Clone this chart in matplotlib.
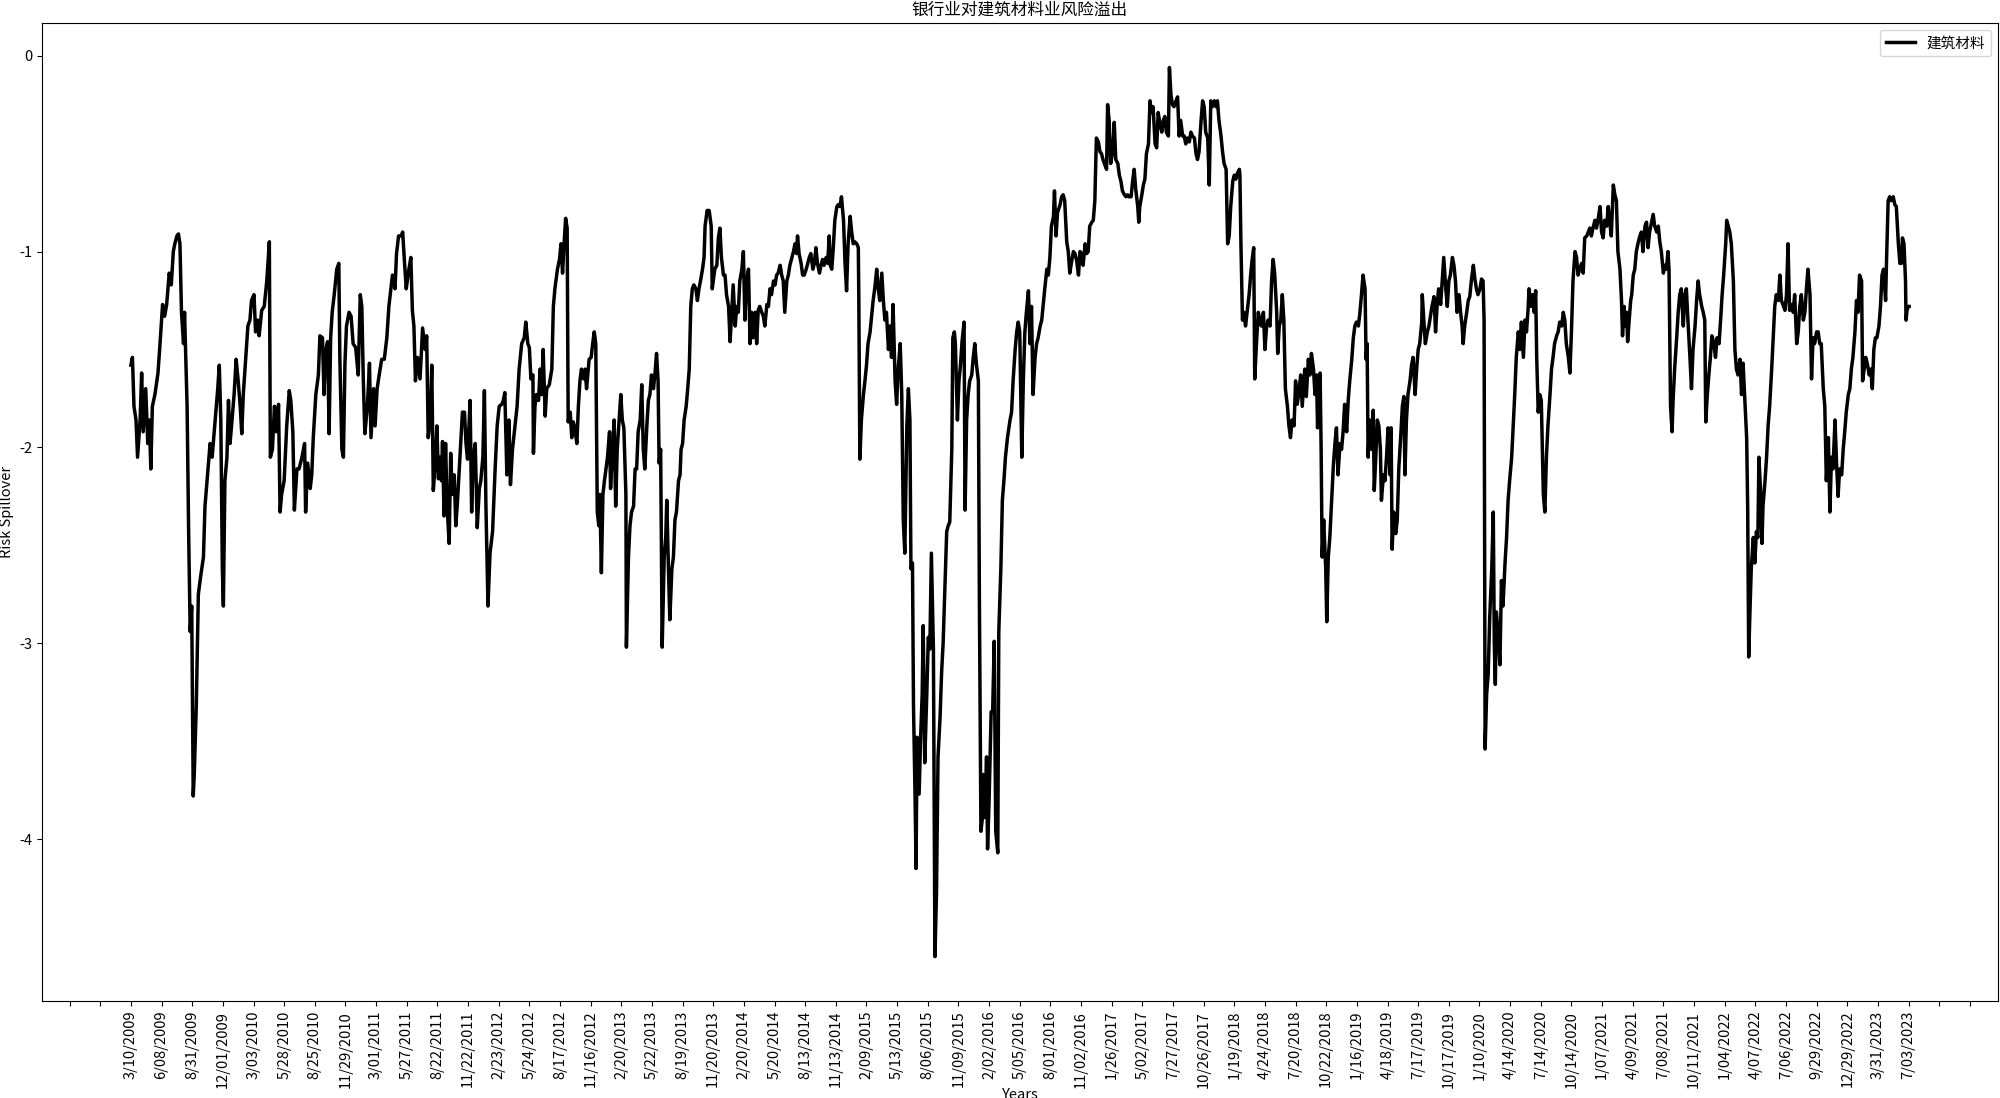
import numpy as np
import matplotlib
matplotlib.use("Agg")
import matplotlib.pyplot as plt

plt.rcParams['font.family'] = ['Noto Sans CJK SC', 'DejaVu Sans']
plt.rcParams['axes.unicode_minus'] = False

title = '银行业对建筑材料业风险溢出'
series_name = '建筑材料'

# trading-day index of each reading and the spillover value
day_idx = [
    0, 3, 6, 10, 13, 18, 21, 24, 29, 33, 36, 39, 42, 47, 53, 57, 62, 66, 70, 75,
    79, 83, 86, 90, 93, 96, 99, 103, 105, 107, 110, 113, 116, 119, 122, 124, 128, 132, 137, 142,
    145, 150, 155, 159, 165, 170, 173, 176, 179, 181, 184, 188, 191, 194, 197, 202, 206, 210, 214, 217,
    220, 225, 229, 233, 236, 241, 244, 248, 251, 256, 261, 266, 269, 271, 273, 277, 281, 285, 289, 292,
    295, 300, 305, 310, 313, 317, 320, 325, 329, 334, 340, 342, 346, 351, 354, 357, 362, 367, 370, 375,
    378, 381, 385, 388, 391, 394, 398, 403, 407, 409, 413, 416, 419, 422, 427, 431, 435, 440, 445, 449,
    452, 455, 458, 463, 467, 470, 475, 478, 482, 486, 491, 496, 501, 505, 509, 512, 517, 520, 524, 529,
    532, 535, 539, 543, 548, 551, 554, 557, 561,
    566, 571, 576, 579, 582, 586, 589, 592, 595, 599, 602, 605, 608, 610, 613, 616, 619, 623, 626, 629,
    633, 636, 639, 644, 649, 653, 656, 659, 664, 667, 670, 674, 678, 682, 685, 689, 692, 695, 699, 703,
    708, 713, 717, 721, 726, 729, 732, 736, 740, 743, 747, 752, 756, 760, 765, 770, 773, 777, 780, 783,
    787, 788, 791, 794, 798, 801, 804, 807, 811, 814, 819, 824, 827, 830, 835, 839, 842, 845, 848, 851,
    854, 856, 860, 863, 866, 869, 873, 876, 879, 882, 886, 889, 892, 897, 901, 904, 907, 910, 913, 916,
    918, 921, 924, 927, 930, 933, 937, 939, 942, 946, 949, 952, 955, 959, 962, 965, 969, 970, 974, 977,
    980, 984, 987, 990, 993, 997, 1000, 1003, 1006, 1010, 1013, 1016, 1019, 1023, 1026, 1029, 1032, 1034, 1037, 1040,
    1044, 1047, 1049, 1052, 1055, 1059, 1062, 1065, 1068, 1072, 1075, 1077, 1080, 1083, 1087, 1090, 1093, 1096, 1099, 1102,
    1106, 1109, 1112, 1115, 1119, 1122, 1124, 1128, 1132, 1136, 1138,
    1143, 1147, 1150, 1153, 1156, 1160, 1163, 1166, 1170, 1173, 1176, 1179, 1183, 1186, 1189, 1192, 1196, 1199, 1202, 1205,
    1209, 1212, 1215, 1218, 1222, 1225, 1228, 1231, 1235, 1238, 1241, 1245, 1248, 1251, 1254, 1258, 1261, 1264, 1267, 1271,
    1274, 1277, 1280, 1284, 1287, 1290, 1294, 1297, 1300, 1303, 1305, 1308, 1312, 1315, 1318, 1322, 1325, 1328, 1331, 1335,
    1338, 1341, 1344, 1348, 1351, 1354, 1357, 1361, 1364, 1367, 1369, 1372, 1375, 1378, 1382, 1385, 1388, 1391, 1395, 1398,
    1401, 1404, 1408, 1411, 1414, 1417, 1421, 1424, 1425, 1427, 1430, 1434, 1437, 1440, 1443, 1447, 1450, 1453, 1457, 1460,
    1463, 1466, 1470, 1473, 1476, 1479, 1483, 1486, 1489, 1492, 1496, 1499, 1502, 1506, 1509, 1512, 1515, 1519, 1522, 1525,
    1527, 1530, 1532, 1535, 1537, 1539, 1543, 1546, 1549, 1551, 1554, 1558, 1561, 1564, 1567, 1571, 1573, 1574, 1577, 1580,
    1584, 1587, 1590, 1594, 1597, 1600, 1603, 1607, 1609, 1612, 1614, 1618, 1621, 1624, 1627, 1631, 1633, 1636, 1639, 1642,
    1646, 1649, 1652, 1655, 1659, 1661, 1664, 1667, 1669, 1672, 1675, 1677, 1680, 1684, 1687, 1690, 1693, 1697, 1699, 1703,
    1706, 1709, 1712, 1716,
    1721, 1724, 1727, 1731, 1734, 1737, 1740, 1744, 1747, 1750, 1753, 1757, 1760, 1763, 1766, 1770, 1773, 1776, 1780, 1783,
    1786, 1789, 1793, 1796, 1799, 1802, 1806, 1808, 1811, 1814, 1819, 1822, 1825, 1828, 1832, 1835, 1838, 1841, 1845, 1848,
    1851, 1855, 1858, 1861, 1864, 1868, 1871, 1874, 1877, 1881, 1884, 1887, 1890, 1894, 1897, 1900, 1903, 1907, 1910, 1912,
    1915, 1918, 1922, 1925, 1928, 1932, 1935, 1938, 1941, 1945, 1948, 1951, 1954, 1958, 1961, 1964, 1967, 1971, 1973, 1975,
    1979, 1982, 1985, 1988, 1992, 1995, 1998, 2001, 2005, 2008, 2011, 2014, 2018, 2021, 2024, 2027, 2031, 2033, 2036, 2039,
    2042, 2046, 2049, 2052, 2055, 2059, 2062, 2065, 2068, 2072, 2075, 2078, 2082, 2085, 2088, 2091, 2095, 2098, 2101, 2104,
    2108, 2111, 2114, 2117, 2121, 2124, 2127, 2130, 2134, 2137, 2140, 2144, 2147, 2150, 2153, 2157, 2160, 2163, 2166, 2170,
    2171, 2173, 2176, 2179, 2182, 2185, 2189, 2192, 2195, 2198, 2200, 2204, 2207, 2210, 2213, 2217, 2220, 2223, 2226, 2230,
    2233, 2236, 2239, 2243, 2245, 2248, 2251, 2254, 2257, 2260, 2264, 2267, 2270, 2273, 2277, 2280, 2283, 2286, 2290, 2293,
    2298, 2301, 2305, 2308, 2311, 2315, 2318, 2321, 2323, 2326, 2328, 2330, 2332, 2335, 2339, 2341, 2344, 2347, 2350, 2354,
    2357, 2360, 2363, 2367, 2370, 2373, 2376, 2380, 2383, 2386, 2390, 2393, 2396, 2399, 2403, 2406, 2409, 2412, 2416, 2418,
    2420, 2422, 2425, 2429, 2432, 2434, 2437, 2440, 2443, 2446, 2448, 2452, 2455, 2458, 2461, 2465, 2467, 2469, 2472, 2476,
    2479, 2482, 2485, 2489, 2492, 2494, 2497, 2500, 2504, 2507, 2510, 2514, 2517, 2520, 2523, 2527, 2528, 2531, 2534, 2538,
    2541, 2544, 2547, 2551, 2554, 2557, 2560, 2564, 2567, 2570, 2574, 2577, 2580, 2583, 2587, 2590, 2593, 2596, 2600, 2603,
    2606, 2608, 2611, 2615, 2618, 2621, 2624, 2628, 2631, 2634, 2637, 2641, 2644, 2647, 2649, 2650, 2651, 2654, 2657, 2660,
    2664, 2667, 2669, 2671, 2673, 2677, 2680, 2683, 2686, 2690, 2693, 2696, 2699, 2703, 2706, 2709, 2712, 2716, 2719, 2722,
    2726, 2729, 2732, 2735, 2737, 2741, 2744, 2747, 2750, 2752, 2755, 2758, 2761, 2765, 2768, 2771, 2774, 2778, 2781, 2784,
    2787, 2791, 2794, 2797, 2801, 2804, 2807, 2810, 2814, 2817, 2820, 2823, 2827, 2830, 2833, 2836, 2840, 2843, 2846, 2850,
    2853, 2856, 2859, 2863, 2866, 2869, 2872,
    2876, 2879, 2882, 2885, 2889, 2892, 2895, 2898, 2902, 2905, 2908, 2911, 2915, 2918, 2920, 2923, 2925, 2928, 2930, 2933,
    2936, 2938, 2941, 2944, 2947, 2951, 2954, 2957, 2960, 2964, 2967, 2970, 2973, 2977, 2980, 2983, 2987, 2990, 2993, 2996,
    3000, 3003, 3006, 3009, 3011, 3014, 3017, 3019, 3022, 3026, 3029, 3032, 3035, 3039, 3042, 3045, 3048, 3052, 3055, 3058,
    3062, 3065, 3068, 3071, 3075, 3078, 3081, 3083, 3086, 3089, 3092, 3095, 3099, 3102, 3105, 3109, 3112, 3115, 3118, 3122,
    3124, 3127, 3130, 3133, 3137, 3140, 3143, 3146, 3150, 3153, 3156, 3159, 3163, 3165, 3167, 3169, 3172, 3176, 3179, 3182,
    3185, 3187, 3190, 3193, 3195, 3199, 3202, 3205, 3208, 3212, 3215, 3218, 3221, 3225, 3228, 3231, 3234, 3238, 3241, 3244,
    3247, 3251, 3254, 3257, 3261, 3264, 3267, 3270, 3274, 3277, 3280, 3283, 3287, 3290, 3293, 3296, 3300, 3303, 3306, 3309,
    3313, 3316, 3319, 3323, 3326, 3329, 3332, 3336, 3339, 3342, 3345, 3349, 3352, 3355, 3358, 3362, 3365, 3368, 3371, 3375,
    3378, 3381, 3384, 3388, 3390, 3393, 3396, 3399, 3403, 3406, 3409, 3412, 3415, 3418, 3422, 3425, 3428, 3431, 3435, 3437,
    3440, 3443, 3446, 3450, 3453, 3456, 3460, 3463, 3466, 3468, 3471, 3474, 3475, 3477, 3479, 3481,
]

spillover = [
    -1.58, -1.54, -1.79, -1.86, -2.05, -1.86, -1.62, -1.92, -1.70, -1.98, -1.86, -2.11, -1.79, -1.73, -1.62, -1.47, -1.27, -1.33, -1.27, -1.11,
    -1.17, -1.00, -0.96, -0.92, -0.91, -0.96, -1.31, -1.47, -1.31, -1.51, -1.79, -2.43, -2.94, -2.81, -3.78, -3.67, -3.32, -2.75, -2.65, -2.56,
    -2.30, -2.14, -1.98, -2.05, -1.86, -1.70, -1.58, -1.86, -2.62, -2.81, -2.17, -2.05, -1.76, -1.98, -1.89, -1.73, -1.55, -1.66, -1.79, -1.93,
    -1.73, -1.54, -1.38, -1.35, -1.25, -1.22, -1.41, -1.35, -1.43, -1.30, -1.28, -1.15, -1.03, -0.95, -2.05, -2.01, -1.79, -1.92, -1.78, -2.33,
    -2.24, -2.17, -1.89, -1.71, -1.76, -1.92, -2.32, -2.11, -2.11, -2.06, -1.98, -2.33, -2.08, -2.21, -2.14, -1.95, -1.73, -1.63, -1.43, -1.44,
    -1.73, -1.51, -1.46, -1.93, -1.44, -1.31, -1.22, -1.09, -1.06, -1.54, -2.01, -2.05, -1.57, -1.38, -1.31, -1.33, -1.47, -1.49, -1.63, -1.22,
    -1.28, -1.66, -1.93, -1.79, -1.57, -1.95, -1.70, -1.89, -1.70, -1.63, -1.55, -1.55, -1.44, -1.28, -1.19, -1.12, -1.19, -1.01, -0.92, -0.92,
    -0.90, -1.03, -1.19, -1.11, -1.03, -1.30, -1.38, -1.66, -1.54,
    -1.65, -1.39, -1.50, -1.43, -1.95, -1.86, -1.58, -2.22, -2.11, -1.89, -2.16, -2.05, -2.17, -1.97, -2.35, -1.98, -2.30, -2.49, -2.03, -2.24,
    -2.14, -2.40, -2.29, -2.05, -1.82, -1.82, -1.98, -2.06, -1.76, -2.33, -2.05, -1.98, -2.41, -2.21, -2.17, -2.05, -1.71, -2.30, -2.81, -2.54,
    -2.43, -2.11, -1.89, -1.79, -1.78, -1.76, -1.72, -2.14, -1.86, -2.19, -2.01, -1.89, -1.79, -1.60, -1.47, -1.44, -1.36, -1.47, -1.49, -1.65,
    -1.63, -2.03, -1.79, -1.73, -1.76, -1.60, -1.73, -1.50, -1.84, -1.70, -1.68, -1.60, -1.28, -1.19, -1.09, -1.04, -0.96, -1.11, -0.96, -0.83,
    -0.88, -1.87, -1.82, -1.95, -1.87, -1.90, -1.98, -1.79, -1.66, -1.60, -1.65, -1.60, -1.70, -1.55, -1.54, -1.47, -1.41, -1.47, -2.33, -2.40,
    -2.24, -2.64, -2.24, -2.17, -2.11, -2.05, -1.92, -2.21, -2.05, -1.86, -2.30, -2.01, -1.89, -1.73, -1.86, -1.90, -2.24, -3.02, -2.56, -2.40,
    -2.33, -2.30, -2.11, -2.11, -1.92, -1.86, -1.68, -2.01, -2.11, -1.89, -1.76, -1.73, -1.63, -1.70, -1.62, -1.52, -1.66, -2.08, -2.01, -3.02,
    -2.56, -2.46, -2.27, -2.59, -2.88, -2.62, -2.56, -2.37, -2.33, -2.17, -2.14, -2.01, -1.98, -1.86, -1.79, -1.70, -1.60, -1.28, -1.19, -1.17,
    -1.19, -1.25, -1.19, -1.15, -1.09, -1.03, -0.87, -0.79, -0.79, -0.87, -1.19,
    -1.09, -1.07, -0.93, -0.88, -1.03, -1.12, -1.12, -1.22, -1.28, -1.46, -1.31, -1.17, -1.38, -1.28, -1.31, -1.15, -1.09, -1.00, -1.35, -1.15,
    -1.09, -1.47, -1.31, -1.44, -1.31, -1.47, -1.30, -1.28, -1.31, -1.33, -1.38, -1.27, -1.28, -1.19, -1.22, -1.15, -1.17, -1.12, -1.11, -1.07,
    -1.12, -1.15, -1.31, -1.15, -1.12, -1.07, -1.03, -1.00, -0.96, -1.01, -0.92, -1.01, -1.06, -1.12, -1.12, -1.09, -1.06, -1.03, -1.01, -1.09,
    -1.06, -0.98, -1.06, -1.11, -1.07, -1.04, -1.07, -1.03, -1.06, -0.92, -1.07, -1.09, -0.98, -0.84, -0.77, -0.76, -0.77, -0.72, -0.84, -1.06,
    -1.20, -0.96, -0.82, -0.90, -0.96, -0.95, -0.96, -0.98, -1.25, -2.06, -1.86, -1.73, -1.66, -1.58, -1.47, -1.41, -1.33, -1.25, -1.17, -1.09,
    -1.19, -1.25, -1.11, -1.25, -1.35, -1.31, -1.50, -1.38, -1.54, -1.27, -1.66, -1.78, -1.60, -1.47, -1.73, -2.37, -2.54, -1.89, -1.70, -1.86,
    -2.62, -2.59, -3.32, -3.77, -4.15, -3.48, -3.77, -3.48, -3.26, -2.91, -3.61, -3.26, -2.97, -3.03, -2.54, -3.03, -4.12, -4.60, -4.28, -3.58,
    -3.38, -3.15, -3.00, -2.68, -2.43, -2.40, -2.38, -2.01, -1.44, -1.41, -1.47, -1.86, -1.66, -1.58, -1.46, -1.36, -2.32, -1.86, -1.73, -1.66,
    -1.63, -1.54, -1.47, -1.57, -1.66, -2.78, -3.96, -3.89, -3.67, -3.89, -3.58, -4.05, -3.80, -3.35, -3.35, -2.99, -3.96, -4.07, -2.94, -2.62,
    -2.27, -2.17, -2.05, -1.95,
    -1.86, -1.82, -1.66, -1.50, -1.41, -1.36, -1.41, -2.05, -1.66, -1.41, -1.31, -1.20, -1.47, -1.28, -1.73, -1.54, -1.47, -1.44, -1.38, -1.35,
    -1.27, -1.19, -1.09, -1.12, -1.03, -0.87, -0.82, -0.69, -0.92, -0.80, -0.76, -0.72, -0.71, -0.74, -0.95, -1.00, -1.11, -1.06, -1.00, -1.01,
    -1.04, -1.12, -1.00, -1.01, -1.07, -0.96, -1.01, -1.00, -0.87, -0.85, -0.84, -0.74, -0.42, -0.44, -0.49, -0.50, -0.53, -0.56, -0.58, -0.25,
    -0.33, -0.55, -0.49, -0.34, -0.53, -0.55, -0.61, -0.64, -0.69, -0.71, -0.72, -0.71, -0.72, -0.72, -0.64, -0.58, -0.68, -0.77, -0.85, -0.77,
    -0.71, -0.66, -0.63, -0.50, -0.45, -0.23, -0.29, -0.26, -0.45, -0.47, -0.29, -0.34, -0.39, -0.33, -0.31, -0.39, -0.41, -0.06, -0.20, -0.25,
    -0.26, -0.23, -0.21, -0.41, -0.33, -0.41, -0.41, -0.45, -0.42, -0.44, -0.39, -0.41, -0.42, -0.50, -0.53, -0.49, -0.33, -0.23, -0.26, -0.39,
    -0.42, -0.66, -0.23, -0.26, -0.23, -0.26, -0.23, -0.33, -0.41, -0.49, -0.55, -0.58, -0.96, -0.92, -0.77, -0.64, -0.61, -0.63, -0.60, -0.58,
    -0.61, -0.96, -1.35, -1.31, -1.38, -1.31, -1.22, -1.12, -1.04, -0.98, -1.65, -1.44, -1.31, -1.35, -1.38, -1.31, -1.50, -1.39, -1.35, -1.38,
    -1.15, -1.04, -1.11, -1.31, -1.52, -1.38, -1.35, -1.22, -1.35, -1.70, -1.79, -1.89, -1.95, -1.86, -1.89, -1.66, -1.78, -1.73, -1.63, -1.79,
    -1.60, -1.74, -1.55, -1.63, -1.52, -1.60, -1.73, -1.63, -1.90, -1.70, -1.62, -2.01, -2.56, -2.37, -2.62, -2.89, -2.56, -2.46, -2.30, -2.09,
    -1.98, -1.90, -2.14, -1.98, -2.01, -1.92, -1.78, -1.92, -1.76, -1.66, -1.55, -1.44, -1.38, -1.36, -1.38, -1.31, -1.22, -1.12, -1.19, -1.55,
    -1.47, -2.05, -1.86, -2.01, -1.81, -2.22, -2.05, -1.86, -1.89, -2.01, -2.27, -2.14, -2.17, -2.05, -1.90, -2.14, -1.90, -2.52, -2.33, -2.44,
    -2.37, -2.11, -1.98, -1.79, -1.74, -2.14, -1.86, -1.73, -1.66, -1.58, -1.54, -1.73, -1.60, -1.50, -1.47, -1.36, -1.22, -1.35, -1.47, -1.41,
    -1.38, -1.33, -1.28, -1.23, -1.41, -1.28, -1.19, -1.27, -1.15, -1.03, -1.19, -1.28, -1.15, -1.12, -1.03, -1.07, -1.15, -1.31, -1.22, -1.31,
    -1.38, -1.47, -1.38, -1.31, -1.25, -1.23, -1.15, -1.07, -1.14, -1.19, -1.22, -1.19, -1.14, -1.15, -1.35, -2.37, -3.54, -3.26, -3.16, -2.87,
    -2.62, -2.33, -3.00, -3.21, -2.84, -2.97, -3.11, -2.68, -2.81, -2.59, -2.46, -2.27, -2.17, -2.05, -1.89, -1.73, -1.54, -1.41, -1.50, -1.36,
    -1.54, -1.35, -1.41, -1.30, -1.19, -1.28, -1.22, -1.31, -1.20, -1.54, -1.82, -1.73, -1.76, -2.24, -2.33, -2.05, -1.89, -1.73, -1.60, -1.54,
    -1.47, -1.43, -1.41, -1.36, -1.38, -1.31, -1.35, -1.47, -1.54, -1.62, -1.41, -1.15, -1.00, -1.03, -1.12, -1.09, -1.06, -1.11, -0.93, -0.92,
    -0.90, -0.88, -0.92, -0.87, -0.84, -0.88, -0.84,
    -0.77, -0.90, -0.93, -0.84, -0.87, -0.77, -0.85, -0.92, -0.66, -0.71, -0.74, -1.00, -1.09, -1.25, -1.43, -1.28, -1.38, -1.31, -1.46, -1.35,
    -1.25, -1.22, -1.12, -1.09, -1.00, -0.95, -0.92, -0.90, -1.00, -0.87, -0.85, -0.98, -0.90, -0.85, -0.81, -0.87, -0.90, -0.87, -0.95, -1.00,
    -1.11, -1.07, -1.09, -1.00, -1.09, -1.79, -1.92, -1.76, -1.60, -1.44, -1.31, -1.22, -1.19, -1.38, -1.22, -1.19, -1.35, -1.54, -1.70, -1.50,
    -1.38, -1.25, -1.15, -1.22, -1.28, -1.31, -1.35, -1.87, -1.73, -1.63, -1.54, -1.43, -1.47, -1.54, -1.44, -1.47, -1.35, -1.22, -1.12, -0.96,
    -0.84, -0.87, -0.90, -0.96, -1.15, -1.50, -1.60, -1.63, -1.55, -1.73, -1.57, -1.73, -1.95, -2.30, -3.07, -2.88, -2.62, -2.46, -2.59, -2.43,
    -2.46, -2.05, -2.21, -2.49, -2.30, -2.17, -2.05, -1.89, -1.79, -1.60, -1.44, -1.28, -1.22, -1.25, -1.12, -1.25, -1.27, -1.30, -1.22, -0.96,
    -1.30, -1.27, -1.31, -1.22, -1.47, -1.41, -1.28, -1.22, -1.35, -1.31, -1.19, -1.09, -1.22, -1.65, -1.44, -1.47, -1.41, -1.41, -1.47, -1.47,
    -1.70, -1.79, -2.17, -1.95, -2.33, -2.05, -2.11, -1.86, -2.08, -2.25, -2.11, -2.14, -2.01, -1.92, -1.82, -1.73, -1.70, -1.60, -1.54, -1.41,
    -1.25, -1.31, -1.12, -1.15, -1.66, -1.60, -1.54, -1.57, -1.63, -1.60, -1.70, -1.50, -1.44, -1.44, -1.38, -1.28, -1.12, -1.09, -1.25, -1.03,
    -0.74, -0.72, -0.74, -0.72, -0.76, -0.77, -0.96, -1.06, -1.06, -0.93, -0.96, -1.15, -1.35, -1.30, -1.28, -1.28,
]

tick_labels = [
    '3/10/2009', '6/08/2009', '8/31/2009', '12/01/2009',
    '3/03/2010', '5/28/2010', '8/25/2010', '11/29/2010',
    '3/01/2011', '5/27/2011', '8/22/2011', '11/22/2011',
    '2/23/2012', '5/24/2012', '8/17/2012', '11/16/2012',
    '2/20/2013', '5/22/2013', '8/19/2013', '11/20/2013',
    '2/20/2014', '5/20/2014', '8/13/2014', '11/13/2014',
    '2/09/2015', '5/13/2015', '8/06/2015', '11/09/2015',
    '2/02/2016', '5/05/2016', '8/01/2016', '11/02/2016',
    '1/26/2017', '5/02/2017', '7/27/2017', '10/26/2017',
    '1/19/2018', '4/24/2018', '7/20/2018', '10/22/2018',
    '1/16/2019', '4/18/2019', '7/17/2019', '10/17/2019',
    '1/10/2020', '4/14/2020', '7/14/2020', '10/14/2020',
    '1/07/2021', '4/09/2021', '7/08/2021', '10/11/2021',
    '1/04/2022', '4/07/2022', '7/06/2022', '9/29/2022', '12/29/2022',
    '3/31/2023', '7/03/2023',
]
tick_step = 60  # one label every 60 trading days

fig = plt.figure(figsize=(20, 10.98), dpi=100)
ax = fig.add_axes([0.021, 0.0883, 0.978, 0.8907])

ax.plot(day_idx, spillover, color='black', linewidth=2.5, label=series_name)

# two empty ticks on each side, like the original categorical axis
padded = ['', ''] + tick_labels + ['', '']
tick_pos = (np.arange(len(padded)) - 2) * tick_step
ax.set_xticks(tick_pos)
ax.set_xticklabels(padded, rotation=90, fontsize=10.5)
ax.tick_params(axis='y', labelsize=10.5)

ax.set_title(title, fontsize=12)
ax.set_xlabel('Years', fontsize=10.5, labelpad=0)
ax.set_ylabel('Risk Spillover', fontsize=10.5)
ax.legend(loc='upper right', fontsize=10.5)

fig.savefig('out.png', dpi=100)
